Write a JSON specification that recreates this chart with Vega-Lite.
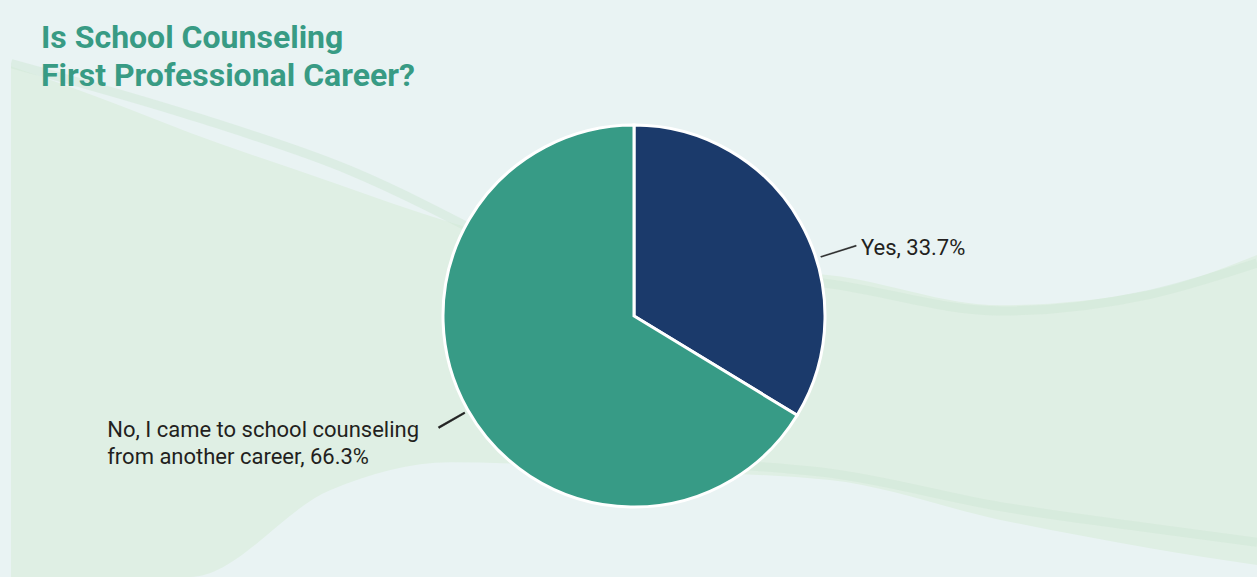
{
  "$schema": "https://vega.github.io/schema/vega-lite/v6.json",
  "background": "#e9f3f3",
  "autosize": {"type": "none"},
  "padding": {"left": 11, "top": 55, "right": 0, "bottom": 0},
  "width": 1246,
  "height": 522,
  "title": {
    "text": ["Is School Counseling", "First Professional Career?"],
    "anchor": "start",
    "dx": 30,
    "font": "Roboto",
    "fontSize": 32,
    "fontWeight": "bold",
    "color": "#389b84",
    "lineHeight": 38,
    "offset": -38
  },
  "config": {"view": {"stroke": null}},
  "datasets": {
    "slices": [
      {"answer": "Yes", "pct": 33.7, "label": "Yes, 33.7%"},
      {"answer": "No", "pct": 66.3, "label": "No, I came to school counseling\nfrom another career, 66.3%"}
    ],
    "swath": [
      {"x": 0.875, "top": 11.5, "bottom": 100},
      {"x": 7.96, "top": 17.0, "bottom": 100},
      {"x": 15.1, "top": 23.0, "bottom": 100},
      {"x": 26.3, "top": 31.5, "bottom": 84.9},
      {"x": 35.8, "top": 38.5, "bottom": 80.1},
      {"x": 50.9, "top": 45.9, "bottom": 81.5},
      {"x": 66.0, "top": 47.7, "bottom": 83.2},
      {"x": 79.6, "top": 52.9, "bottom": 90.1},
      {"x": 91.5, "top": 50.3, "bottom": 95.0},
      {"x": 100, "top": 44.2, "bottom": 97.9}
    ],
    "streaks": [
      {"band": "upper-left", "x": 0.875, "y": 11.0},
      {"band": "upper-left", "x": 15.9, "y": 20.5},
      {"band": "upper-left", "x": 27.8, "y": 29.5},
      {"band": "upper-left", "x": 40.0, "y": 42.5},
      {"band": "right-top", "x": 55.0, "y": 46.5},
      {"band": "right-top", "x": 66.0, "y": 49.2},
      {"band": "right-top", "x": 79.6, "y": 53.9},
      {"band": "right-top", "x": 91.5, "y": 51.0},
      {"band": "right-top", "x": 100, "y": 45.6},
      {"band": "right-bottom", "x": 58.0, "y": 80.5},
      {"band": "right-bottom", "x": 66.0, "y": 82.0},
      {"band": "right-bottom", "x": 79.6, "y": 87.8},
      {"band": "right-bottom", "x": 91.5, "y": 91.5},
      {"band": "right-bottom", "x": 100, "y": 94.0}
    ]
  },
  "resolve": {"scale": {"x": "shared", "y": "shared"}},
  "layer": [
    {
      "data": {"name": "swath"},
      "mark": {"type": "area", "interpolate": "monotone", "color": "#dfefe4", "clip": true},
      "encoding": {
        "x": {"field": "x", "type": "quantitative", "scale": {"domain": [0.875, 100], "zero": false, "nice": false}, "axis": null},
        "y": {"field": "top", "type": "quantitative", "scale": {"domain": [9.53, 100], "zero": false, "nice": false, "reverse": true}, "axis": null},
        "y2": {"field": "bottom"}
      }
    },
    {
      "data": {"name": "streaks"},
      "mark": {"type": "line", "interpolate": "monotone", "strokeWidth": 9, "color": "#cfe7d5", "opacity": 0.5, "clip": true},
      "encoding": {
        "x": {"field": "x", "type": "quantitative", "axis": null},
        "y": {"field": "y", "type": "quantitative", "axis": null},
        "detail": {"field": "band"}
      }
    },
    {
      "data": {"name": "slices"},
      "transform": [
        {"stack": "pct", "groupby": [], "as": ["s0", "s1"], "sort": [{"field": "answer", "order": "descending"}]}
      ],
      "encoding": {
        "theta": {"field": "s0", "type": "quantitative", "scale": {"domain": [0, 100]}},
        "theta2": {"field": "s1"}
      },
      "layer": [
        {
          "mark": {"type": "arc", "outerRadius": 191, "stroke": "white", "strokeWidth": 3},
          "encoding": {
            "color": {
              "field": "answer",
              "type": "nominal",
              "scale": {"domain": ["Yes", "No"], "range": ["#1b3a6b", "#379b86"]},
              "legend": null
            }
          }
        },
        {
          "transform": [{"filter": "datum.answer === 'Yes'"}],
          "mark": {"type": "arc", "innerRadius": 196, "outerRadius": 233, "thetaOffset": 1.262, "theta2Offset": -0.851, "color": "#222222", "stroke": "#222222", "strokeWidth": 0.6}
        },
        {
          "transform": [{"filter": "datum.answer === 'No'"}],
          "mark": {"type": "arc", "innerRadius": 195, "outerRadius": 225, "thetaOffset": 2.072, "theta2Offset": -2.086, "color": "#222222", "stroke": "#222222", "strokeWidth": 0.6}
        },
        {
          "transform": [{"filter": "datum.answer === 'Yes'"}],
          "mark": {"type": "text", "radius": 237, "thetaOffset": 1.279, "align": "left", "baseline": "middle", "font": "Roboto", "fontSize": 22, "color": "#231f20"},
          "encoding": {"text": {"field": "label"}, "theta2": null}
        },
        {
          "transform": [{"filter": "datum.answer === 'No'"}],
          "mark": {"type": "text", "radius": 539, "thetaOffset": 2.3818, "align": "left", "baseline": "middle", "font": "Roboto", "fontSize": 22, "lineHeight": 27, "lineBreak": "\n", "color": "#231f20"},
          "encoding": {"text": {"field": "label"}, "theta2": null}
        }
      ]
    }
  ]
}
